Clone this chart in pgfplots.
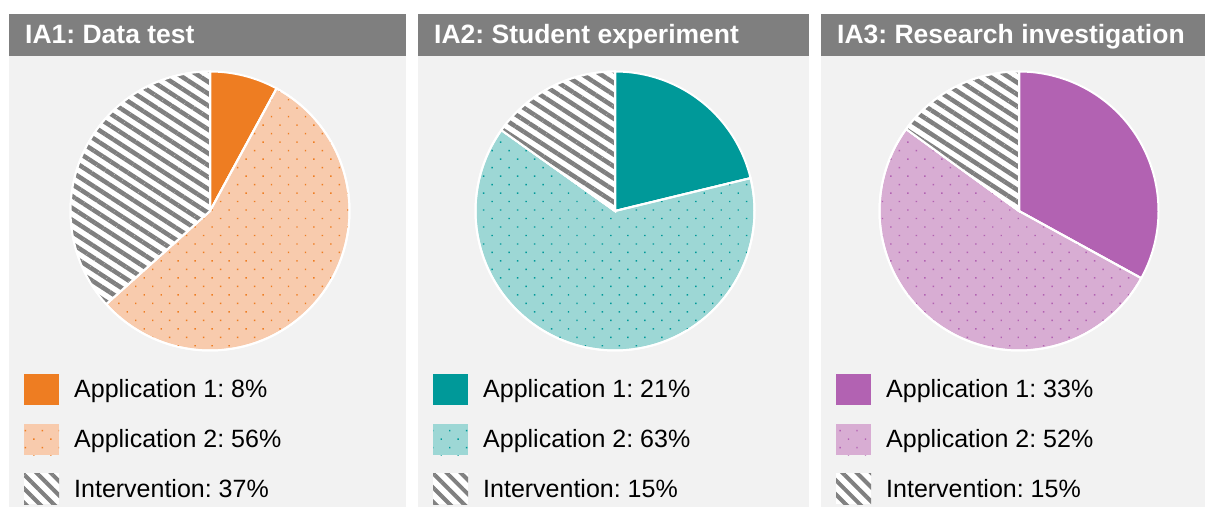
\documentclass[border=0pt]{standalone}
\usepackage{pgfplots}
\pgfplotsset{compat=1.18}
\usetikzlibrary{patterns.meta}
\usepackage{fontspec}
\setmainfont{Liberation Sans}
\frenchspacing

\definecolor{hdr}{HTML}{7F7F7F}
\definecolor{panelbg}{HTML}{F2F2F2}
\definecolor{stripe}{HTML}{808080}
\definecolor{orangeA}{HTML}{EE7D22}
\definecolor{orangeB}{HTML}{F8CBAD}
\definecolor{tealA}{HTML}{009999}
\definecolor{tealB}{HTML}{9DD7D5}
\definecolor{purpA}{HTML}{B262B2}
\definecolor{purpB}{HTML}{D8ADD3}

% #1 panel left x, #2 panel right x, #3 pie centre x, #4 title,
% #5 Application 1, #6 Application 2, #7 Intervention, #8 dark colour, #9 light colour
\newcommand{\piepanel}[9]{%
  \fill[panelbg] (#1,0) rectangle (#2,{507-14});
  \fill[hdr] (#1,{507-14}) rectangle (#2,{507-56});
  \node[anchor=base west, inner sep=0pt, text=white, font=\fontsize{26.5}{30}\selectfont\bfseries]
    at ({#1+16},{507-44}) {#4};
  \pgfmathsetmacro\tot{#5+#6+#7}
  \pgfmathsetmacro\angA{90-#5/\tot*360}
  \pgfmathsetmacro\angB{\angA-#6/\tot*360}
  \begin{axis}[at={(#3pt,296pt)}, anchor=center, x=139.5pt, y=139.5pt,
      xmin=-1, xmax=1, ymin=-1, ymax=1, hide axis, clip=false,
      scale only axis]
    \addplot[draw=white, line width=2pt, fill=#8, domain=\angA:90, samples=80]
      ({cos(x)},{sin(x)}) -- (axis cs:0,0) -- cycle;
    \addplot[draw=white, line width=2pt, preaction={fill=#9},
      pattern={Dots[angle=45,distance=12pt,radius=1pt]}, pattern color=#8,
      domain=\angB:\angA, samples=120]
      ({cos(x)},{sin(x)}) -- (axis cs:0,0) -- cycle;
    \addplot[draw=white, line width=2pt, preaction={fill=white},
      pattern={Lines[angle=-33,distance=10pt,line width=4.5pt]}, pattern color=stripe,
      domain=-270:\angB, samples=80]
      ({cos(x)},{sin(x)}) -- (axis cs:0,0) -- cycle;
  \end{axis}
  % legend
  \fill[#8] ({#1+15},{507-374}) rectangle ({#1+50},{507-405});
  \fill[#9] ({#1+15},{507-424}) rectangle ({#1+50},{507-455});
  \path[pattern={Dots[angle=45,distance=12pt,radius=1pt]}, pattern color=#8]
    ({#1+15},{507-424}) rectangle ({#1+50},{507-455});
  \fill[white] ({#1+15},{507-473}) rectangle ({#1+50},{507-504});
  \path[pattern={Lines[angle=-45,distance=10pt,line width=4pt]}, pattern color=stripe]
    ({#1+15},{507-473}) rectangle ({#1+50},{507-504});
  \node[anchor=base west, inner sep=0pt, font=\fontsize{25}{29}\selectfont]
    at ({#1+65},{507-397.5}) {Application 1: #5\%};
  \node[anchor=base west, inner sep=0pt, font=\fontsize{25}{29}\selectfont]
    at ({#1+65},{507-447.5}) {Application 2: #6\%};
  \node[anchor=base west, inner sep=0pt, font=\fontsize{25}{29}\selectfont]
    at ({#1+65},{507-497.5}) {Intervention: #7\%};
}

\begin{document}
\begin{tikzpicture}[x=1pt, y=1pt]
  \useasboundingbox[fill=white] (0,0) rectangle (1205,507);
  \piepanel{9}{406}{210}{IA1: Data test}{8}{56}{37}{orangeA}{orangeB}
  \piepanel{418}{809}{615}{IA2: Student experiment}{21}{63}{15}{tealA}{tealB}
  \piepanel{821}{1205}{1019}{IA3: Research investigation}{33}{52}{15}{purpA}{purpB}
\end{tikzpicture}
\end{document}
